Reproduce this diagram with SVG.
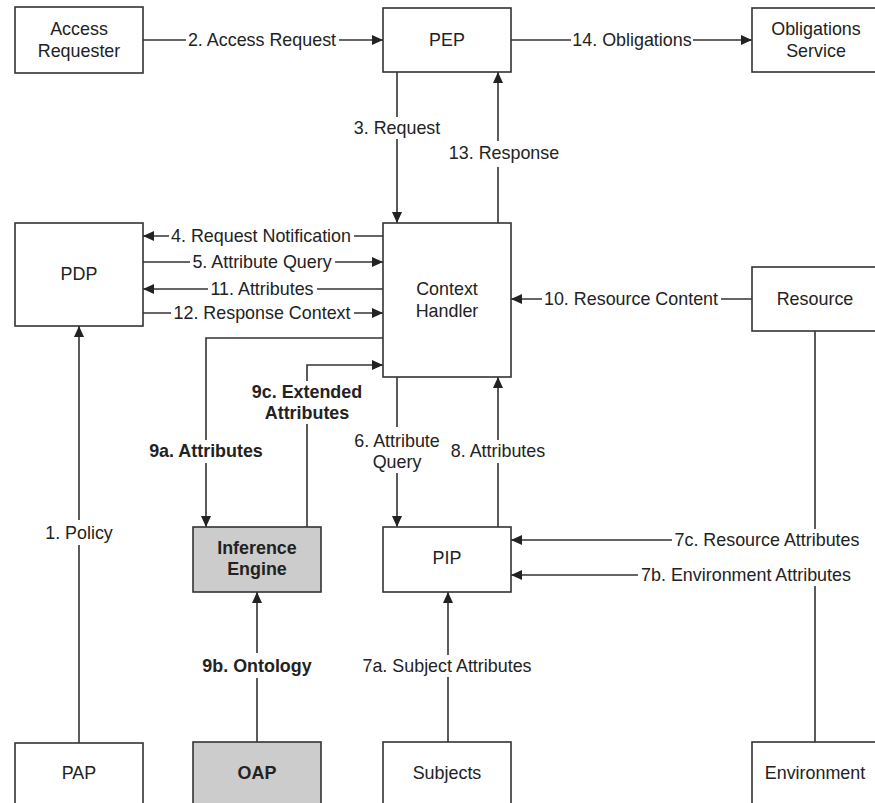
<svg xmlns="http://www.w3.org/2000/svg" width="875" height="803" viewBox="0 0 875 803">
<style>
  .box { fill: #ffffff; stroke: #333333; stroke-width: 1.6; }
  .gray { fill: #cccccc; }
  .ln { fill: none; stroke: #333333; stroke-width: 1.6; }
  .bg { fill: #ffffff; stroke: none; }
  text { font-family: "Liberation Sans", Arial, sans-serif; font-size: 17.9px; fill: #222222; text-anchor: middle; }
  .b { font-weight: bold; }
</style>
<defs>
  <marker id="ah" markerUnits="userSpaceOnUse" markerWidth="12" markerHeight="10" refX="11" refY="5" orient="auto">
    <path d="M0,0 L11,5 L0,10 z" fill="#222222"/>
  </marker>
</defs>
<rect width="875" height="803" fill="#ffffff"/>

<g id="connectors">
  <line class="ln" x1="143" y1="40" x2="383" y2="40" marker-end="url(#ah)"/>
  <line class="ln" x1="511" y1="40" x2="752" y2="40" marker-end="url(#ah)"/>
  <line class="ln" x1="397" y1="72" x2="397" y2="223" marker-end="url(#ah)"/>
  <line class="ln" x1="498" y1="223" x2="498" y2="72" marker-end="url(#ah)"/>
  <line class="ln" x1="383" y1="236" x2="143" y2="236" marker-end="url(#ah)"/>
  <line class="ln" x1="143" y1="262" x2="383" y2="262" marker-end="url(#ah)"/>
  <line class="ln" x1="383" y1="289" x2="143" y2="289" marker-end="url(#ah)"/>
  <line class="ln" x1="143" y1="313" x2="383" y2="313" marker-end="url(#ah)"/>
  <line class="ln" x1="752" y1="299" x2="511" y2="299" marker-end="url(#ah)"/>
  <polyline class="ln" points="383,338 206,338 206,527" marker-end="url(#ah)"/>
  <polyline class="ln" points="307,527 307,365 383,365" marker-end="url(#ah)"/>
  <line class="ln" x1="397" y1="377" x2="397" y2="527" marker-end="url(#ah)"/>
  <line class="ln" x1="498" y1="527" x2="498" y2="377" marker-end="url(#ah)"/>
  <line class="ln" x1="79" y1="743" x2="79" y2="326" marker-end="url(#ah)"/>
  <line class="ln" x1="257" y1="743" x2="257" y2="592" marker-end="url(#ah)"/>
  <line class="ln" x1="448" y1="743" x2="448" y2="592" marker-end="url(#ah)"/>
  <polyline class="ln" points="815,331 815,540 511,540" marker-end="url(#ah)"/>
  <polyline class="ln" points="815,743 815,575 511,575" marker-end="url(#ah)"/>

  <rect class="bg" x="186" y="30" width="153" height="20"/>
  <text x="262" y="46.4">2. Access Request</text>
  <rect class="bg" x="571" y="30" width="122" height="20"/>
  <text x="632" y="46.4">14. Obligations</text>
  <rect class="bg" x="352" y="117" width="90" height="22"/>
  <text x="397" y="134.4">3. Request</text>
  <rect class="bg" x="448" y="141" width="113" height="26"/>
  <text x="504" y="159.4">13. Response</text>
  <rect class="bg" x="169" y="227" width="185" height="19"/>
  <text x="261" y="242.4">4. Request Notification</text>
  <rect class="bg" x="190" y="253" width="145" height="19"/>
  <text x="262" y="268.4">5. Attribute Query</text>
  <rect class="bg" x="208" y="280" width="109" height="19"/>
  <text x="262" y="295.4">11. Attributes</text>
  <rect class="bg" x="171" y="304" width="183" height="19"/>
  <text x="262" y="319.4">12. Response Context</text>
  <rect class="bg" x="542" y="290" width="179" height="19"/>
  <text x="631" y="305.4">10. Resource Content</text>
  <rect class="bg" x="147" y="440" width="118" height="23"/>
  <text class="b" x="206" y="457.4">9a. Attributes</text>
  <rect class="bg" x="250" y="381" width="114" height="43"/>
  <text class="b" x="307" y="398.4">9c. Extended</text>
  <text class="b" x="307" y="419.4">Attributes</text>
  <rect class="bg" x="351" y="427" width="92" height="46"/>
  <text x="397" y="447.4">6. Attribute</text>
  <text x="397" y="468.4">Query</text>
  <rect class="bg" x="448" y="440" width="100" height="23"/>
  <text x="498" y="457.4">8. Attributes</text>
  <rect class="bg" x="39" y="520" width="80" height="25"/>
  <text x="79" y="539.4">1. Policy</text>
  <rect class="bg" x="202" y="653" width="110" height="25"/>
  <text class="b" x="257" y="672.4">9b. Ontology</text>
  <rect class="bg" x="359" y="655" width="177" height="22"/>
  <text x="447" y="672.4">7a. Subject Attributes</text>
  <rect class="bg" x="672" y="529" width="191" height="22"/>
  <text x="767" y="546.4">7c. Resource Attributes</text>
  <rect class="bg" x="638" y="564" width="218" height="22"/>
  <text x="746" y="581.4">7b. Environment Attributes</text>
</g>

<g id="access-requester">
  <rect class="box" x="15" y="7" width="128" height="66"/>
  <text x="79" y="35.4">Access</text>
  <text x="79" y="57.4">Requester</text>
</g>
<g id="pep">
  <rect class="box" x="383" y="8" width="128" height="64"/>
  <text x="447" y="46.4">PEP</text>
</g>
<g id="obligations-service">
  <rect class="box" x="752" y="8" width="128" height="64"/>
  <text x="816" y="35.4">Obligations</text>
  <text x="816" y="57.4">Service</text>
</g>
<g id="pdp">
  <rect class="box" x="15" y="223" width="128" height="103"/>
  <text x="79" y="280.4">PDP</text>
</g>
<g id="context-handler">
  <rect class="box" x="383" y="223" width="128" height="154"/>
  <text x="447" y="295.4">Context</text>
  <text x="447" y="317.4">Handler</text>
</g>
<g id="resource">
  <rect class="box" x="752" y="267" width="128" height="64"/>
  <text x="815" y="305.4">Resource</text>
</g>
<g id="inference-engine">
  <rect class="box gray" x="193" y="527" width="128" height="65"/>
  <text class="b" x="257" y="554.4">Inference</text>
  <text class="b" x="257" y="575.4">Engine</text>
</g>
<g id="pip">
  <rect class="box" x="383" y="527" width="128" height="65"/>
  <text x="447" y="564.4">PIP</text>
</g>
<g id="pap">
  <rect class="box" x="15" y="743" width="128" height="66"/>
  <text x="79" y="779.4">PAP</text>
</g>
<g id="oap">
  <rect class="box gray" x="193" y="742" width="128" height="67"/>
  <text class="b" x="257" y="779.4">OAP</text>
</g>
<g id="subjects">
  <rect class="box" x="383" y="742" width="128" height="67"/>
  <text x="447" y="779.4">Subjects</text>
</g>
<g id="environment">
  <rect class="box" x="752" y="742" width="128" height="67"/>
  <text x="815" y="779.4">Environment</text>
</g>
</svg>
